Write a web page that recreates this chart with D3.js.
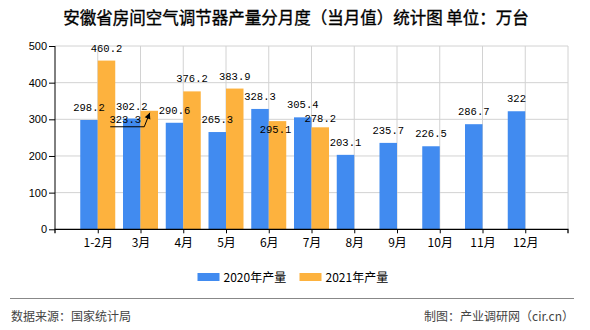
<!DOCTYPE html>
<html><head><meta charset="utf-8">
<script src="https://cdn.jsdelivr.net/npm/d3@7"></script>
<style>
html,body{margin:0;padding:0;background:#fff;}
svg{display:block;}
</style></head>
<body><svg id="c" width="590" height="330"></svg>
<script>
const title = "安徽省房间空气调节器产量分月度（当月值）统计图 单位：万台";
const categories = ["1-2月","3月","4月","5月","6月","7月","8月","9月","10月","11月","12月"];
const series2020 = [298.2,302.2,290.6,265.3,328.3,305.4,203.1,235.7,226.5,286.7,322];
const series2021 = [460.2,323.3,376.2,383.9,295.1,278.2,null,null,null,null,null];
const seriesNames = ["2020年产量","2021年产量"];
const yTicks = [0,100,200,300,400,500];
const source = "数据来源：国家统计局";
const credit = "制图：产业调研网（cir.cn）";

const colors = ["#418BF0","#FDB23E"];
const svg = d3.select("#c");
const L = 55, R = 568, T = 46, B = 229.3;
const x = d3.scalePoint().domain(categories).range([L, R]).padding(1);
const y = d3.scaleLinear().domain([0, 500]).range([B, T]);
const bw = 17.5;
const cjk = "'Noto Sans CJK SC','Noto Sans',sans-serif";

// title
svg.append("text").attr("x", 296).attr("y", 24).attr("text-anchor","middle")
  .style("font-family", cjk).style("font-size","16.5px")
  .attr("fill","#000").attr("stroke","#000").attr("stroke-width",0.35).text(title);

// grid
const g = svg.append("g");
g.selectAll(".hg").data(yTicks.filter(d=>d>0)).join("line")
  .attr("x1", L).attr("x2", R).attr("y1", d=>y(d)).attr("y2", d=>y(d))
  .attr("stroke","#d2d2d2").attr("stroke-width",1);
g.selectAll(".vg").data(categories).join("line")
  .attr("x1", d=>x(d)).attr("x2", d=>x(d)).attr("y1", T).attr("y2", B)
  .attr("stroke","#d2d2d2").attr("stroke-width",1);
g.append("line").attr("x1",R).attr("x2",R).attr("y1",T).attr("y2",B)
  .attr("stroke","#d2d2d2");

// bars
const allSeries = [series2020, series2021];
allSeries.forEach((s, si) => {
  svg.append("g").selectAll("rect").data(categories.map((c,i)=>({c, v:s[i]})).filter(d=>d.v!=null))
    .join("rect")
    .attr("x", d => si===0 ? x(d.c)-bw : x(d.c))
    .attr("width", bw)
    .attr("y", d => y(d.v))
    .attr("height", d => y(0)-y(d.v))
    .attr("fill", colors[si]);
});

// axes
const yAxis = d3.axisLeft(y).tickValues(yTicks).tickSize(6).tickPadding(2);
const ya = svg.append("g").attr("transform",`translate(${L},0)`).call(yAxis);
ya.select(".domain").attr("stroke","#000").attr("d",`M0,${T}V${B}`);
ya.selectAll(".tick line").attr("stroke","#000");
ya.selectAll(".tick text").style("font-family","'Liberation Sans',Arial,sans-serif")
  .style("font-size","11px").attr("fill","#000");

const xAxis = d3.axisBottom(x).tickSize(4).tickPadding(5);
const xa = svg.append("g").attr("transform",`translate(0,${B})`).call(xAxis);
xa.select(".domain").attr("stroke","#000").attr("stroke-width",1.3).attr("d",`M${L},4V0H${R}V4`);
xa.selectAll(".tick line").attr("stroke","#000");
xa.selectAll(".tick text").style("font-family", cjk).style("font-size","12px").attr("fill","#000");

// value labels
const adj = {"7月|0":{dx:0,dy:-9.4}, "7月|1":{dx:0,dy:-5.6}, "6月|1":{dx:-2,dy:11.6}, "3月|1":{dx:-24,dy:12}};
const lab = svg.append("g").style("font-family","'Liberation Mono','DejaVu Sans Mono',monospace")
  .style("font-size","10.5px").attr("fill","#000");
allSeries.forEach((s, si) => {
  categories.forEach((c, i) => {
    const v = s[i]; if (v == null) return;
    const cx = si===0 ? x(c)-bw/2 : x(c)+bw/2;
    const a = adj[c+"|"+si] || {dx:0, dy:-9};
    lab.append("text").attr("x", cx + a.dx).attr("y", y(v) + a.dy)
      .attr("text-anchor","middle").text(String(v));
    if (c === "3月" && si === 1) {
      const by = y(v) + a.dy + 4;
      const bx = cx - 39, mx = cx - 5;
      const ex = cx + 0.5, ey = y(v) + 2;
      lab.append("path").attr("d",`M${bx},${by}H${mx}L${ex},${ey}`)
        .attr("fill","none").attr("stroke","#000").attr("stroke-width",1);
      const ang = Math.atan2(ey-by, ex-mx);
      const hl = 6, hw = 3;
      const p1 = [ex - hl*Math.cos(ang) + hw*Math.sin(ang), ey - hl*Math.sin(ang) - hw*Math.cos(ang)];
      const p2 = [ex - hl*Math.cos(ang) - hw*Math.sin(ang), ey - hl*Math.sin(ang) + hw*Math.cos(ang)];
      lab.append("path").attr("d",`M${ex},${ey}L${p1}L${p2}Z`).attr("fill","#000");
    }
  });
});

// legend
const lg = svg.append("g");
const lx = [197.5, 299.5];
seriesNames.forEach((n, i) => {
  lg.append("rect").attr("x", lx[i]).attr("y", 273).attr("width", 22).attr("height", 8).attr("fill", colors[i]);
  lg.append("text").attr("x", lx[i]+26).attr("y", 282).style("font-family", cjk).style("font-size","12px")
    .attr("fill","#000").text(n);
});

// footer
svg.append("line").attr("x1",10).attr("x2",574).attr("y1",298.5).attr("y2",298.5).attr("stroke","#888").attr("stroke-width",1);
svg.append("text").attr("x",11).attr("y",321).style("font-family",cjk).style("font-size","12px").attr("fill","#444").text(source);
svg.append("text").attr("x",574).attr("y",321).attr("text-anchor","end").style("font-family",cjk).style("font-size","12px").attr("fill","#444").text(credit);
</script></body></html>
